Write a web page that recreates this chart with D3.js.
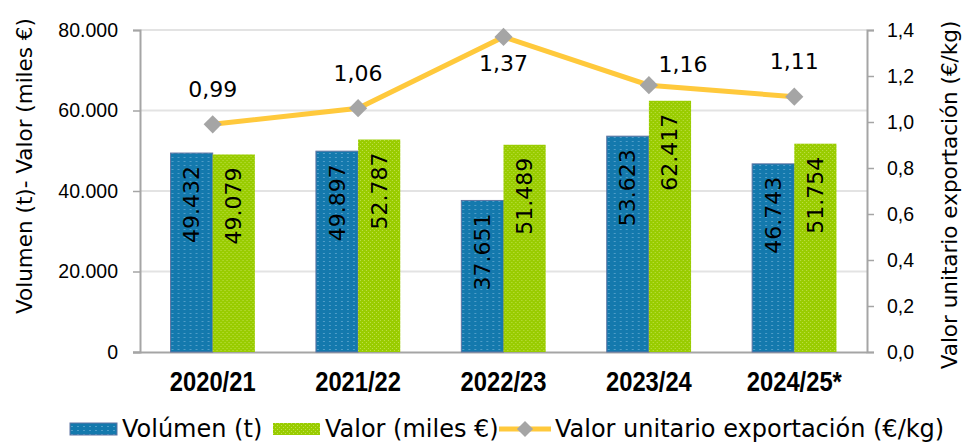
<!DOCTYPE html>
<html lang="es">
<head>
  <meta charset="UTF-8">
  <title>Exportaciones</title>
  <style>
    body { margin: 0; background: #fff; }
    svg { display: block; font-family: "DejaVu Sans", sans-serif; }
  </style>
</head>
<body>
  <div id="chart"></div>

  <script src="https://d3js.org/d3.v7.min.js"></script>
  <script>

    // data
    const campaigns = ["2020/21", "2021/22", "2022/23", "2023/24", "2024/25*"];
    const volumen = [49432, 49897, 37651, 53623, 46743];
    const valor = [49079, 52787, 51489, 62417, 51754];
    const unitario = [0.99, 1.06, 1.37, 1.16, 1.11];
    const leftTicks = [0, 20000, 40000, 60000, 80000];
    const rightTicks = [0, 0.2, 0.4, 0.6, 0.8, 1.0, 1.2, 1.4];
    // where each price label sits relative to its point
    const labelPlace = ["above", "above", "below", "right", "above"];

    const width = 964,
          height = 442,
          margin = {top: 30, right: 97, bottom: 90, left: 140};

    const blue = "#1479ad", green = "#99cc00", gold = "#ffc93c", grey = "#a5a5a5";

    const svg = d3.select("#chart")
      .append("svg")
      .attr("width", width)
      .attr("height", height);

    // fill patterns, like the dotted excel fills
    const defs = svg.append("defs");
    const pBlue = defs.append("pattern")
      .attr("id", "pat-blue")
      .attr("patternUnits", "userSpaceOnUse")
      .attr("width", 6).attr("height", 4);
    pBlue.append("rect").attr("width", 6).attr("height", 4).attr("fill", blue);
    pBlue.append("rect").attr("x", 1).attr("y", 1).attr("width", 2).attr("height", 1).attr("fill", "#4f9dc8");

    const pGreen = defs.append("pattern")
      .attr("id", "pat-green")
      .attr("patternUnits", "userSpaceOnUse")
      .attr("width", 4).attr("height", 4);
    pGreen.append("rect").attr("width", 4).attr("height", 4).attr("fill", green);
    pGreen.append("rect").attr("x", 0).attr("y", 0).attr("width", 1).attr("height", 1).attr("fill", "#bfe04a");
    pGreen.append("rect").attr("x", 2).attr("y", 2).attr("width", 1).attr("height", 1).attr("fill", "#bfe04a");

    const x = d3.scaleBand(campaigns, [margin.left, width - margin.right])
      .paddingInner(0.42)
      .paddingOuter(0.21);

    const x1 = d3.scaleBand(["vol", "val"], [0, x.bandwidth()]);

    const y = d3.scaleLinear([0, 80000], [height - margin.bottom, margin.top]);
    const y2 = d3.scaleLinear([0, 1.4], [height - margin.bottom, margin.top]);

    const fmtThousands = d3.formatLocale({decimal: ",", thousands: ".", grouping: [3], currency: ["", "€"]}).format(",.0f");
    const fmtComma1 = v => d3.format(".1f")(v).replace(".", ",");
    const fmtComma2 = v => d3.format(".2f")(v).replace(".", ",");

    // gridlines
    svg.append("g")
      .selectAll("line")
      .data(leftTicks.slice(1))
      .join("line")
      .attr("x1", margin.left)
      .attr("x2", width - margin.right)
      .attr("y1", d => y(d))
      .attr("y2", d => y(d))
      .attr("stroke", "#e3e3e3")
      .attr("stroke-width", 2);

    // left axis
    const axL = svg.append("g")
      .attr("transform", `translate(${margin.left},0)`)
      .call(d3.axisLeft(y).tickValues(leftTicks).tickSize(7).tickPadding(15).tickFormat(d => d === 0 ? "0" : fmtThousands(d)));

    // right axis
    const axR = svg.append("g")
      .attr("transform", `translate(${width - margin.right},0)`)
      .call(d3.axisRight(y2).tickValues(rightTicks).tickSize(7).tickPadding(13).tickFormat(fmtComma1));

    // bottom axis
    const axB = svg.append("g")
      .attr("transform", `translate(0,${height - margin.bottom})`)
      .call(d3.axisBottom(x).tickSize(0).tickPadding(20));

    [axL, axR, axB].forEach(ax => {
      ax.select(".domain").attr("stroke", grey).attr("stroke-width", 2);
      ax.selectAll(".tick line").attr("stroke", grey).attr("stroke-width", 1.5);
      ax.selectAll(".tick text").attr("fill", "#000").style("font-size", "19.5px");
    });
    axB.select(".domain").attr("d", `M${margin.left - 7},0.5H${width - margin.right}`);
    // condensed bold look for the campaign labels
    axB.selectAll(".tick text")
      .style("font-family", "'Liberation Sans', Arial, sans-serif")
      .style("font-weight", "bold")
      .style("font-size", "27px")
      .attr("transform", "scale(0.88,1)");

    // bars
    const groups = svg.append("g")
      .selectAll("g")
      .data(campaigns.map((c, i) => ({c, vol: volumen[i], val: valor[i]})))
      .join("g")
      .attr("transform", d => `translate(${x(d.c)},0)`);

    groups.selectAll("rect")
      .data(d => [{k: "vol", v: d.vol}, {k: "val", v: d.val}])
      .join("rect")
      .attr("x", d => x1(d.k))
      .attr("y", d => y(d.v))
      .attr("width", x1.bandwidth())
      .attr("height", d => y(0) - y(d.v))
      .attr("fill", d => d.k === "vol" ? "url(#pat-blue)" : "url(#pat-green)")
      .attr("stroke", d => d.k === "vol" ? "#5f75a3" : "none")
      .attr("stroke-width", 1);

    groups.selectAll("text")
      .data(d => [{k: "vol", v: d.vol}, {k: "val", v: d.val}])
      .join("text")
      .attr("transform", d => `translate(${x1(d.k) + x1.bandwidth() / 2},${y(d.v) + 13}) rotate(-90)`)
      .attr("text-anchor", "end")
      .attr("dominant-baseline", "central")
      .style("font-size", "22px")
      .text(d => fmtThousands(d.v));

    // price line
    const pts = campaigns.map((c, i) => [x(c) + x.bandwidth() / 2, y2(unitario[i])]);

    svg.append("path")
      .attr("d", d3.line()(pts))
      .attr("fill", "none")
      .attr("stroke", gold)
      .attr("stroke-width", 5);

    svg.append("g")
      .selectAll("path")
      .data(pts)
      .join("path")
      .attr("transform", d => `translate(${d[0]},${d[1]}) rotate(45)`)
      .attr("d", d3.symbol(d3.symbolSquare, 165))
      .attr("fill", grey);

    svg.append("g")
      .selectAll("text")
      .data(pts)
      .join("text")
      .attr("x", (d, i) => labelPlace[i] === "right" ? d[0] + 34 : d[0])
      .attr("y", (d, i) => labelPlace[i] === "below" ? d[1] + 27 : labelPlace[i] === "right" ? d[1] - 21 : d[1] - 35)
      .attr("text-anchor", "middle")
      .attr("dominant-baseline", "central")
      .style("font-size", "22px")
      .text((d, i) => fmtComma2(unitario[i]));

    // axis titles
    svg.append("text")
      .attr("transform", `translate(24,166) rotate(-90)`)
      .attr("text-anchor", "middle")
      .attr("dominant-baseline", "central")
      .style("font-size", "21.5px")
      .text("Volumen (t)- Valor (miles €)");

    svg.append("text")
      .attr("transform", `translate(949,195) rotate(-90)`)
      .attr("text-anchor", "middle")
      .attr("dominant-baseline", "central")
      .style("font-size", "21.5px")
      .text("Valor unitario exportación (€/kg)");

    // legend
    const legendItems = [
      {label: "Volúmen (t)", type: "vol", x: 70},
      {label: "Valor (miles €)", type: "val", x: 273},
      {label: "Valor unitario exportación (€/kg)", type: "line", x: 499}
    ];
    const ly = 429;
    const legend = svg.append("g")
      .selectAll("g")
      .data(legendItems)
      .join("g")
      .attr("transform", d => `translate(${d.x},${ly})`);

    legend.filter(d => d.type !== "line")
      .append("rect")
      .attr("y", -6)
      .attr("width", 47)
      .attr("height", 12)
      .attr("fill", d => d.type === "vol" ? "url(#pat-blue)" : "url(#pat-green)")
      .attr("stroke", d => d.type === "vol" ? "#5f75a3" : "none");

    const lineItem = legend.filter(d => d.type === "line");
    lineItem.append("line")
      .attr("x1", 0).attr("x2", 52)
      .attr("stroke", gold)
      .attr("stroke-width", 5);
    lineItem.append("path")
      .attr("transform", "translate(26,0) rotate(45)")
      .attr("d", d3.symbol(d3.symbolSquare, 130))
      .attr("fill", grey);

    legend.append("text")
      .attr("x", d => d.type === "line" ? 56 : 52)
      .attr("dominant-baseline", "central")
      .style("font-size", "24px")
      .text(d => d.label);

  </script>
</body>
</html>
